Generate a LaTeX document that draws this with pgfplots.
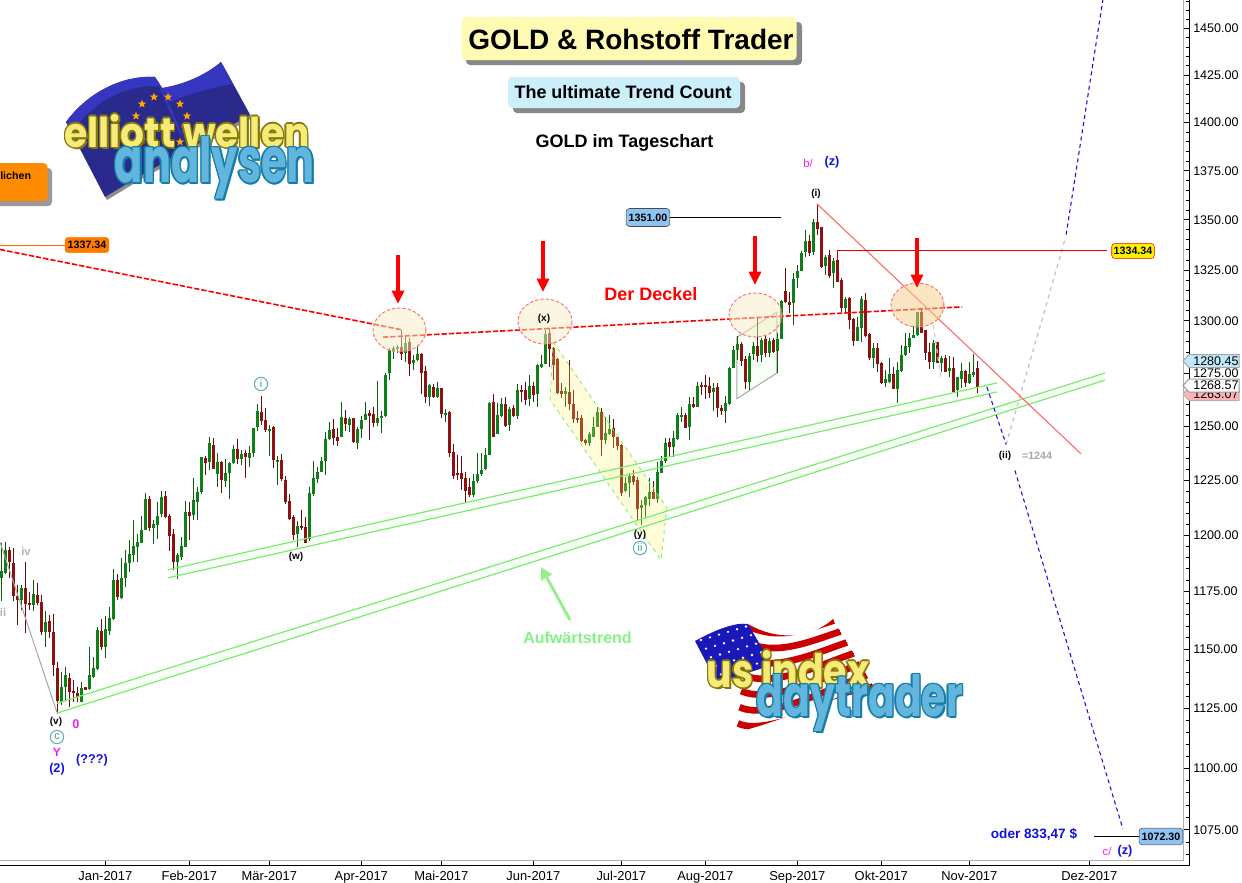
\documentclass[border=0pt]{standalone}
\usepackage{fontspec}
\setmainfont{Liberation Sans}
\newfontfamily\logofont{Poppins}
\usepackage{pgfplots}
\usepackage{pgfplotstable}
\pgfplotsset{compat=1.18}
\usetikzlibrary{shapes.geometric,calc,arrows.meta}
% i = trading-day index, t/b = body top/bottom, h/l = high/low
\pgfplotstableread{
i t b h l
0 1183.9 1181 1196.4 1170.8
1 1193.4 1183.2 1197.1 1182.9
5 1176.6 1171.5 1178.1 1167.1
8 1174 1169.3 1180.3 1166.4
11 1161.9 1157.6 1166.4 1151
15 1133.8 1127.7 1140.4 1126.3
16 1139 1134 1142.5 1128.4
20 1133.3 1127.7 1136.2 1127.4
22 1139 1133 1151 1132.6
23 1142.2 1138.3 1146.8 1137.6
24 1158.3 1141.4 1159.8 1141.1
26 1158.6 1151 1164.5 1146.1
27 1163.6 1158 1168.1 1156.1
28 1180.3 1163 1184.9 1162.7
30 1181 1172.2 1189.8 1171.9
31 1187.6 1181 1193.4 1177.3
32 1191.5 1187.6 1197.8 1183.6
33 1195.3 1191 1206.8 1188
34 1196.8 1194.9 1200.8 1187.9
35 1202.6 1196.7 1208.6 1196.4
36 1216.2 1202.6 1219.3 1202.3
38 1205 1203.3 1206.8 1195.9
39 1208.9 1204.4 1215.2 1198.5
40 1217.3 1209.6 1219.8 1208.3
44 1191.2 1188.3 1192 1180.6
45 1195.2 1190.5 1199.3 1189
46 1210.3 1194.9 1215.6 1194.6
48 1215.9 1209.1 1225.8 1206.8
49 1219.6 1215.2 1221.7 1206.8
50 1235.5 1219.6 1235.5 1218.7
52 1242 1233.3 1245 1229.6
54 1233.5 1227.8 1237.3 1221.7
56 1228.1 1224.7 1234.6 1222
57 1232.7 1228.1 1233.5 1216.5
58 1239.2 1233 1241.2 1232.3
60 1237 1234.9 1238.9 1231.9
62 1237.3 1235.3 1240.7 1231.2
63 1248.9 1237.3 1248.9 1235.8
64 1256.9 1249.4 1260.4 1247.7
67 1248.5 1247.8 1250.5 1236
69 1234.3 1233.5 1236 1222.7
74 1204.1 1200.5 1206.5 1194.9
77 1219 1198.5 1222 1197.5
78 1225.8 1218.7 1233.6 1217.7
79 1228.7 1225.6 1231.2 1223.8
80 1233.6 1228.9 1235.5 1228.7
81 1243.8 1233.9 1247.3 1227.3
82 1248.1 1243.8 1252 1243.5
85 1254.1 1245 1261.2 1245
87 1253.3 1250.5 1254.4 1247.4
89 1248.5 1242 1249.7 1239.4
90 1252.8 1248.6 1254.7 1244.6
91 1255.5 1252.8 1261.2 1252.8
94 1253.6 1251.3 1271.4 1250
95 1254.7 1253.6 1257.2 1246.9
96 1274 1254.7 1274.8 1254.4
97 1286.1 1274.8 1286.9 1271.7
98 1286.9 1285.7 1288 1281.7
99 1287.5 1286.4 1288.5 1284.5
101 1289.3 1284.5 1292.5 1280.5
103 1281.3 1280 1283.7 1276.4
104 1284.1 1281.3 1288.5 1280.9
107 1269.4 1263.8 1269.8 1259.4
109 1268.1 1263.8 1270.9 1263
111 1256.1 1255.3 1257.9 1252
118 1224.5 1218.2 1227.8 1217.1
119 1227.8 1224.5 1237.3 1223.8
120 1229.6 1227.6 1237.3 1226.9
121 1236.6 1230.1 1239.7 1229.6
122 1261 1236.6 1261.3 1236.6
124 1255.2 1246.3 1261 1246.3
125 1260.4 1254.9 1263.1 1254.4
127 1258 1250.5 1259.1 1247.8
129 1267 1254.9 1269.8 1253.1
132 1268.8 1262.8 1274 1259.4
134 1278.8 1265.1 1279.3 1259.1
135 1279.2 1277.7 1283.7 1277.2
136 1293.6 1279.3 1295.7 1279.3
141 1266.5 1265.1 1268.6 1258.8
147 1246.3 1242 1247.4 1240.7
148 1249.7 1245.1 1254.4 1244.8
149 1256.6 1249.7 1258.8 1249.4
151 1246.6 1243.5 1254.4 1241.7
152 1248.4 1246.3 1255.2 1245.8
156 1223.5 1220.2 1226.5 1219.7
157 1226.9 1223.5 1228.4 1217.4
160 1213.6 1212.1 1215.9 1204.5
161 1217.4 1213.6 1217.7 1207.6
162 1219.6 1216.5 1225.9 1213.2
164 1228.7 1216.4 1233.5 1214.7
165 1233.8 1228.4 1236.1 1228.1
166 1242 1233.9 1244.3 1233
168 1244.4 1240.4 1247.7 1235.5
169 1255.2 1243.8 1256.3 1243.5
170 1255 1254.4 1258.8 1252
172 1260.4 1249.7 1263.8 1243.5
174 1268.9 1259.1 1270.9 1258.8
178 1267.9 1266 1270.4 1256.8
181 1260.7 1256.8 1264.2 1251.6
182 1277.4 1260.4 1277.7 1259.9
183 1286.1 1277.2 1287.7 1277.2
184 1288.9 1286.1 1292.5 1281.3
187 1283.2 1270.8 1284.5 1266.7
188 1288 1284 1290.1 1281.3
190 1290.9 1283.7 1291.7 1280.5
192 1290.2 1284.8 1291.7 1282.5
194 1291.2 1285.7 1294.4 1274.8
195 1309.8 1291.2 1310.3 1291.2
198 1320.6 1308.7 1323.4 1298.1
199 1324.5 1321.2 1327.5 1316.3
200 1333.3 1324.7 1334.5 1324.5
201 1339.5 1334 1345 1331.7
203 1349.2 1334 1350.3 1332.5
206 1331.3 1327.2 1332.5 1322.5
208 1329.5 1323.4 1330.8 1316
211 1310.6 1306.2 1311.9 1304.6
214 1297 1290.5 1302.1 1290.2
215 1310.8 1296.8 1312.2 1289.6
218 1286.9 1282.1 1289.3 1277.2
221 1272 1270.1 1276.4 1268.2
222 1274.4 1270.9 1282.1 1270.4
224 1276.3 1267.5 1280.5 1260.7
225 1283.7 1276.1 1288.5 1275.6
226 1287.7 1283.7 1294.1 1283.2
227 1291.8 1287.5 1294.1 1284.8
228 1293.3 1292 1297.6 1291.7
229 1304.2 1293 1304.6 1292.5
233 1289.3 1280.5 1290.9 1276.8
235 1282.4 1280 1282.9 1275.6
237 1277.4 1276.1 1282.9 1273
239 1273 1266.7 1273.3 1263.5
240 1276 1272.2 1279.6 1267.8
242 1274.5 1270.4 1280.5 1269.8
243 1275.6 1274 1284.1 1273.2
}\tabUp
\pgfplotstableread{
i t b h l
2 1193.4 1188.3 1194.9 1181
3 1187.6 1173 1194.2 1170.8
4 1173 1171.2 1178.1 1160.5
6 1176.6 1169.8 1188.3 1157.2
7 1170 1169.3 1175.1 1166.8
9 1173.6 1170 1178.8 1169.3
10 1170.6 1157.6 1173.7 1156.1
12 1162.3 1157.6 1164.9 1154.7
13 1157.5 1143.2 1165.4 1138.7
14 1142.2 1128 1144.4 1122.7
17 1137.7 1131.9 1139.7 1125.6
18 1132.3 1131.5 1136.9 1127.7
19 1131.2 1129.5 1133.8 1127.7
21 1133.9 1132.6 1133.9 1132.6
25 1157.9 1151 1163 1149.6
29 1180.3 1172.5 1182.9 1171.2
37 1216.2 1203.3 1217.7 1202
41 1217.6 1208.3 1219.8 1207.6
42 1208.6 1199.7 1209.6 1193.1
43 1200.5 1188.3 1203 1184.7
47 1210.3 1208.8 1215.2 1197.8
51 1235.2 1233 1236.1 1227.3
53 1241 1230.2 1244.6 1230.2
55 1233.3 1225 1233.9 1219.2
59 1239.4 1234.9 1243.8 1232.4
61 1237.3 1235.8 1238.9 1226.1
65 1256.4 1252.5 1264.2 1250.5
66 1252.7 1248.1 1258.3 1247
68 1249.5 1234.3 1250 1230.7
70 1234.3 1225.5 1237 1224.7
71 1225.3 1215 1226.9 1214.1
72 1215.5 1207.3 1218.7 1206.8
73 1208.2 1200 1209.1 1198.1
75 1204.1 1203.2 1211.4 1202.3
76 1203.6 1196.7 1208.3 1196.4
83 1248.5 1244.6 1253.1 1241.2
84 1244.9 1242.8 1248.9 1240.7
86 1253.6 1250.9 1257.6 1247.7
88 1253.6 1242.6 1253.8 1242
92 1256.1 1254.9 1257.6 1243.5
93 1255.5 1251.6 1259.1 1249.4
100 1287.5 1284.1 1295.7 1281.3
102 1290.1 1279.3 1291.7 1273.6
105 1284.1 1275.2 1284.5 1265.1
106 1276 1263.4 1278.4 1261
108 1268.2 1263.5 1269.8 1263
110 1267.9 1255.7 1268.1 1253.6
112 1256.6 1237.7 1256.8 1235.8
113 1237.8 1227 1241.5 1225.5
114 1228.2 1227.3 1236.6 1225
115 1228.4 1225.5 1236.3 1220.5
116 1225.9 1220.2 1228.9 1214.4
117 1222 1218.2 1225.8 1217.4
123 1261.2 1245 1265.1 1245
126 1260.4 1250.2 1263.5 1249.7
128 1258.5 1254.7 1259.9 1254.4
130 1267 1266.2 1269.4 1261.5
131 1266.8 1262.3 1270.9 1259.9
133 1268.7 1264.6 1270.9 1261.5
137 1294.1 1286.4 1296.5 1278
138 1286.9 1278.8 1287.3 1271.7
139 1281.6 1265.6 1282 1265
140 1266.5 1265.1 1270.1 1263.1
142 1266.2 1260.4 1281.3 1257.6
143 1260.4 1253.1 1267 1251.3
144 1253.8 1253 1256.8 1251.3
145 1253.8 1243.2 1255.2 1242.7
146 1243.5 1242.3 1243.8 1241.2
150 1256.4 1243.5 1258.3 1236.1
153 1249.1 1245.1 1253.1 1239.7
154 1244.9 1240.7 1245.1 1238.9
155 1241.2 1219 1241.7 1217.7
158 1226.9 1224.3 1229.6 1222.7
159 1225 1211.7 1226.5 1206.8
163 1219.6 1216.4 1224.4 1216.2
167 1242.4 1240.4 1244.3 1235.5
171 1255 1249.2 1256 1248.9
173 1260.4 1258.7 1263.8 1258.3
175 1269.2 1268.6 1270.9 1264.6
176 1269.2 1268.6 1274 1262.6
177 1268.9 1265.7 1273.3 1263.1
179 1268.2 1258.3 1270.4 1254.1
180 1258.5 1257.2 1259.9 1255.2
185 1288.9 1280.9 1289.6 1278.4
186 1281.6 1270.9 1282.9 1267.3
189 1288 1283.2 1302 1280.5
191 1291.4 1284.8 1292.5 1282.5
193 1290.9 1285.3 1291.7 1284.5
196 1314.7 1309.1 1325.8 1309
197 1309.3 1307.8 1314.4 1304.1
202 1339.5 1333.7 1342.5 1332
204 1349 1345.5 1358.2 1342.5
205 1346.3 1326.7 1346.7 1325.8
207 1332.3 1322.2 1335 1320.9
209 1329.7 1319.3 1334.2 1319.1
210 1320.1 1306.2 1320.9 1304.6
212 1311.1 1300.5 1311.6 1296
213 1301 1290.5 1301.3 1288.1
216 1310.3 1292.8 1313.6 1292.2
217 1293.7 1282.4 1294.1 1281.3
219 1286.9 1279.3 1289.3 1275.6
220 1280 1270.1 1280.5 1269.8
223 1274.4 1267.5 1278 1267.3
230 1304.2 1294.4 1306.2 1294.1
231 1295.5 1284.8 1295.7 1281.3
232 1285 1280.5 1289.3 1276.8
234 1289.9 1280 1290.1 1279.6
236 1282.1 1275.6 1283.7 1275.3
238 1277.6 1265.9 1282.6 1265.7
241 1276 1270.4 1276.4 1268.2
244 1277.2 1268.6 1280.9 1265.4
}\tabDown
\definecolor{cgreen}{HTML}{0E8018}\definecolor{wgreen}{HTML}{0A5A0A}
\definecolor{cred}{HTML}{8E1010}\definecolor{wred}{HTML}{6A0A0A}
\definecolor{trend}{HTML}{7CEB6E}\definecolor{ablue}{HTML}{1010E0}
\definecolor{tagblue}{HTML}{8FC3F2}\definecolor{mag}{HTML}{F020F0}
\definecolor{pale}{HTML}{F6EEC4}\definecolor{palor}{HTML}{F8CE8A}
\definecolor{goldy}{HTML}{F6EA78}\definecolor{goldedge}{HTML}{85780A}
\definecolor{skyb}{HTML}{62B6DE}\definecolor{skyedge}{HTML}{147CA6}
\definecolor{eudark}{HTML}{2A2A8C}\definecolor{eulight}{HTML}{3636C0}
\definecolor{boxshadow}{HTML}{888888}
\newcommand\candles[3]{%
 \addplot[draw=none,no markers,forget plot,error bars/.cd,y dir=minus,y explicit,error mark=none,error bar style={line width=.75pt,color=#2,solid}] table[x=i,y=h,y error expr=\thisrow{h}-\thisrow{l}] {#1};
 \addplot[draw=none,no markers,forget plot,error bars/.cd,y dir=minus,y explicit,error mark=none,error bar style={line width=2.5pt,color=#3,solid}] table[x=i,y=t,y error expr=\thisrow{t}-\thisrow{b}] {#1};
}
\newcommand\fsz[1]{\fontsize{#1}{#1}\selectfont}
\newcommand\logotext[7]{% x,y,w,h,text,fill,edge
 \foreach \dx/\dy in {-1.4/0,1.4/0,0/-1.4,0/1.4,-1/-1,1/-1,-1/1,1/1,1.6/2.2}{
  \node[inner sep=0pt,text=#7] at (#1+\dx,#2+\dy) {\resizebox{\dimexpr #3pt*3/4\relax}{\dimexpr #4pt*3/4\relax}{\logofont\bfseries #5}};}
 \node[inner sep=0pt,text=#6] at (#1,#2) {\resizebox{\dimexpr #3pt*3/4\relax}{\dimexpr #4pt*3/4\relax}{\logofont\bfseries #5}};
}
\newcommand\pricetag[4]{% y text fill edge
 \filldraw[fill=#3,draw=#4,line width=.75pt] (1183,#1) -- (1189,#1-6.5) -- (1239,#1-6.5) -- (1239,#1+6.5) -- (1189,#1+6.5) -- cycle;
 \node[anchor=west,inner sep=0pt,font=\fsz{9.4}] at (1193,#1) {#2};
}
\begin{document}
\begin{tikzpicture}
\path[use as bounding box] (0,0) rectangle (931.5pt,-661.5pt);
\clip (0,0) rectangle (931.5pt,-661.5pt);
\begin{axis}[
 at={(0pt,-649.5pt)},anchor=south west,scale only axis,
 width=891.75pt,height=649.5pt,
 ymode=log,
 xmin=-0.3325,xmax=296.92,ymin=1060.68,ymax=1465.79,
 axis x line=bottom,axis y line=right,
 axis line style={-,black,line width=.75pt},
 tick align=inside,
 tick style={black,line width=.75pt},
 major tick length=4.5pt,minor tick length=2.4pt,
 xtick={26,47,67,90,110,133,155,176,199,220,242,272},
 xticklabels={Jan-2017,Feb-2017,Mär-2017,Apr-2017,Mai-2017,Jun-2017,Jul-2017,Aug-2017,Sep-2017,Okt-2017,Nov-2017,Dez-2017},
 xticklabel style={font=\fsz{9.7},inner ysep=0pt,text height=7.5pt,text depth=0pt,yshift=-3.5pt},
 ytick={1075,1100,1125,1150,1175,1200,1225,1250,1275,1300,1325,1350,1375,1400,1425,1450},
 yticklabels={1075.00,1100.00,1125.00,1150.00,1175.00,1200.00,1225.00,1250.00,1275.00,1300.00,1325.00,1350.00,1375.00,1400.00,1425.00,1450.00},
 yticklabel style={font=\fsz{9.4},anchor=west,inner xsep=0pt,xshift=3pt},
 minor ytick={1065,1070,1080,1085,1090,1095,1105,1110,1115,1120,1130,1135,1140,1145,1155,1160,1165,1170,1180,1185,1190,1195,1205,1210,1215,1220,1230,1235,1240,1245,1255,1260,1265,1270,1280,1285,1290,1295,1305,1310,1315,1320,1330,1335,1340,1345,1355,1360,1365,1370,1380,1385,1390,1395,1405,1410,1415,1420,1430,1435,1440,1445,1455,1460,1465},
 clip=true,
]
% pale channel fills
\addplot[fill=green!3,draw=none,forget plot] coordinates {(41.7,1184.7) (248.9,1270.3) (248.9,1266) (41.7,1181.1)} -- cycle;
\addplot[fill=green!3,draw=none,forget plot] coordinates {(13.9,1127) (275.9,1275) (275.9,1271.6) (13.9,1122.9)} -- cycle;
\addplot[fill=green!3,draw=gray!70,line width=.75pt,forget plot] coordinates {(183.9,1292.2) (193.9,1304.4) (193.9,1275) (183.9,1262.9)} -- cycle;
% candles
\candles{\tabUp}{wgreen}{cgreen}
\candles{\tabDown}{wred}{cred}
% falling channel
\addplot[fill=yellow!60!white,fill opacity=.25,draw=trend,line width=.6pt,dashed,forget plot] coordinates {(137.9,1290) (166.4,1212.5) (164.9,1189) (137.2,1262.3)} -- cycle;
% green trend lines
\addplot[trend,line width=.9pt,forget plot] coordinates {(41.7,1184.7) (248.9,1270.3)};
\addplot[trend,line width=.9pt,forget plot] coordinates {(41.7,1181.1) (248.9,1266)};
\addplot[trend,line width=.9pt,forget plot] coordinates {(13.9,1127) (275.9,1275)};
\addplot[trend,line width=.9pt,forget plot] coordinates {(13.9,1122.9) (275.9,1271.6)};
% gray wave lines
\addplot[gray!70,line width=.75pt,forget plot] coordinates {(-0.33,1197) (13.9,1123.3)};
\addplot[gray!50,dashed,line width=.9pt,forget plot] coordinates {(251.2,1241.4) (265.9,1340.1)};
\addplot[gray!40,dashed,line width=.9pt,forget plot] coordinates {(233,1298) (235,1271.5)};
% red lines
\addplot[red,dashed,line width=1.2pt,dash pattern=on 4pt off 1.5pt,forget plot] coordinates {(-0.33,1335.2) (100.2,1295.7)};
\addplot[red,dashed,line width=1.2pt,dash pattern=on 4pt off 1.5pt,forget plot] coordinates {(95.4,1292.2) (240.2,1306.9)};
\addplot[red!60!white,line width=.8pt,forget plot] coordinates {(203.9,1358.2) (269.9,1237.1)};
% blue projection
\addplot[ablue,line width=.8pt,dash pattern=on 3pt off 2.5pt,forget plot] coordinates {(246.4,1268.3) (251.2,1241.4)};
\addplot[ablue,line width=.8pt,dash pattern=on 3pt off 2.5pt,forget plot] coordinates {(253.4,1229.4) (280.4,1075.3)};
\addplot[ablue,line width=.8pt,dash pattern=on 3pt off 2.5pt,forget plot] coordinates {(266.2,1342.6) (275.4,1465.8)};
% level lines
\addplot[black,line width=.75pt,forget plot] coordinates {(164.7,1351.4) (194.9,1351.4)};
\addplot[red!90!black,line width=.75pt,forget plot] coordinates {(209,1330) (209,1334.6) (276.5,1334.6)};
\addplot[orange!80!red,line width=.75pt,forget plot] coordinates {(-0.33,1337.3) (16,1337.3)};
\addplot[black,line width=.75pt,forget plot] coordinates {(273.2,1072.3) (285,1072.3)};
\end{axis}
\begin{scope}[x=.75pt,y=-.75pt]
\draw[color=black!30,line width=.75pt] (1183.3,0) -- (1183.3,860.7) -- (0,860.7);
% ellipses
\foreach \cx/\cy/\rx/\ry/\col in {399.5/330/26.5/22/pale,545/321.5/27/22.5/pale,755.5/315/26.5/22/pale,917.5/305/26.5/22/palor}{
 \fill[\col,opacity=.5] (\cx,\cy) ellipse [x radius=\rx,y radius=\ry];
 \draw[red!55,line width=.75pt,dash pattern=on 2.5pt off 1.5pt] (\cx,\cy) ellipse [x radius=\rx,y radius=\ry];
}
% red arrows
\foreach \ax/\ay/\by in {398/255/304,543/241/292,755/236/285,917/238/288}{
 \draw[red,line width=2.3pt,-{Triangle[length=10pt,width=9pt]}] (\ax,\ay) -- (\ax,\by);
}
\draw[trend!80!white,line width=2.2pt,-{Triangle[length=9pt,width=9pt]}] (570,620) -- (541,567);
% titles
\fill[boxshadow,rounded corners=3pt] (466,22) rectangle (802,65);
\fill[yellow!30!white,rounded corners=3pt] (461.7,17) rectangle (796.7,60);
\node[font=\fsz{21}\bfseries] at (631,39) {GOLD \& Rohstoff Trader};
\fill[boxshadow,rounded corners=3pt] (513,82) rectangle (745,113);
\fill[cyan!20!white,rounded corners=3pt] (508,77) rectangle (740,108);
\node[font=\fsz{13.5}\bfseries] at (623,92.5) {The ultimate Trend Count};
\node[font=\fsz{13.5}\bfseries] at (624.5,143) {GOLD im Tageschart};
\node[font=\fsz{13.5}\bfseries,text=red] at (651,294) {Der Deckel};
\node[font=\fsz{12}\bfseries,text=green!45!white!95!black] at (577.5,638) {Aufwärtstrend};
\node[font=\fsz{10.2}\bfseries,text=ablue] at (1034,834) {oder 833,47 \$};
% wave labels
\foreach \lx/\ly/\lt in {816/194/(i),544/319/(x),296/557/(w),640/535/(y),56/722/(v),1005/456/(ii)}{
 \node[font=\fsz{7.5}\bfseries] at (\lx,\ly) {\lt};}
\foreach \lx/\ly/\lt in {261/384/i,640/548/ii,57/737/c}{
 \node[circle,draw=teal!60,line width=.8pt,inner sep=0pt,minimum size=10pt,font=\fsz{8},text=teal!80] at (\lx,\ly) {\lt};}
\node[font=\fsz{9}\bfseries,text=mag] at (57,752) {Y};
\node[font=\fsz{9.5}\bfseries,text=mag] at (76,724) {0};
\node[font=\fsz{9.5}\bfseries,text=ablue] at (57,769) {(2)};
\node[font=\fsz{9.5}\bfseries,text=ablue] at (92,760) {(???)};
\node[font=\fsz{8.5}\bfseries,text=gray!60] at (26,551) {iv};
\node[font=\fsz{8.5}\bfseries,text=gray!60] at (3,612) {ii};
\node[font=\fsz{8.5},text=mag] at (808,163) {b/};
\node[font=\fsz{9.5}\bfseries,text=ablue] at (832,162) {(z)};
\node[font=\fsz{8.5},text=mag] at (1107,851) {c/};
\node[font=\fsz{9.5}\bfseries,text=ablue] at (1125,851) {(z)};
\node[font=\fsz{8}\bfseries,text=gray!70] at (1037,456) {=1244};
% level tags
\node[draw=black!70,fill=tagblue,rounded corners=2.5pt,inner xsep=2pt,minimum height=13.5pt,inner ysep=0pt,font=\fsz{8}\bfseries] at (648,217.5) {1351.00};
\node[draw=red,fill=yellow,rounded corners=2.5pt,inner xsep=1.5pt,minimum height=11.5pt,inner ysep=0pt,font=\fsz{8}\bfseries] at (1133,251) {1334.34};
\node[draw=orange,fill=orange!95!red,rounded corners=2.5pt,inner xsep=2pt,minimum height=11.5pt,inner ysep=0pt,font=\fsz{8}\bfseries] at (87,245) {1337.34};
\node[draw=black!70,fill=tagblue,rounded corners=2.5pt,inner xsep=2pt,minimum height=12.5pt,inner ysep=0pt,font=\fsz{8}\bfseries] at (1161,836.5) {1072.30};
% right price tags
\pricetag{394}{1263.07}{red!30}{gray!60}
\pricetag{361}{1280.45}{cyan!25}{gray!70}
\pricetag{385.5}{1268.57}{white}{gray!80}
% orange box
\fill[gray!80,rounded corners=3pt] (-10,168) rectangle (52,206);
\fill[orange!90!yellow,rounded corners=3pt] (-10,163) rectangle (47.5,201);
\node[anchor=west,inner sep=0pt,font=\fsz{8}\bfseries] at (0,176) {lichen};
% EU logo
\fill[black!45] (68,125) .. controls (90,95) and (125,78) .. (157,80) -- (164,91) .. controls (185,88) and (208,78) .. (223,65) -- (252,118) -- (140,180) -- (107,200) -- cycle;
\fill[eudark] (66,122) .. controls (88,92) and (123,75) .. (155,77) -- (162,88) .. controls (183,85) and (206,75) .. (221,62) -- (250,115) -- (138,177) -- (105,197) -- cycle;
\fill[eulight] (155,77) -- (162,88) -- (185,140) -- (178,130) -- cycle;
\fill[eulight] (162,88) .. controls (183,85) and (206,75) .. (221,62) -- (232,84) .. controls (210,88) and (185,95) .. (170,102) -- cycle;
\fill[eulight] (66,122) .. controls (88,92) and (123,75) .. (155,77) -- (160,86) .. controls (125,85) and (95,100) .. (72,132) -- cycle;
\foreach \sx/\sy in {142/104,154/97,168/97,180/104,187/116,185/128,180/142,136/116,142/140}{
 \node[star,star points=5,star point ratio=2.3,fill=orange!70!yellow,inner sep=0pt,minimum size=6.5pt] at (\sx,\sy) {};}
\logotext{187}{131}{245}{33}{elliott wellen}{goldy}{goldedge}
\logotext{215}{168}{200}{46}{analysen}{skyb}{skyedge}
% US logo
\begin{scope}
\clip (695,641) .. controls (715,630) and (735,622) .. (748,624) .. controls (775,640) and (810,640) .. (833,619) -- (877,692) .. controls (840,690) and (790,720) .. (737,732) -- (717,683) -- cycle;
\fill[white] (680,610) rectangle (890,740);
\foreach \tt in {0.02,0.17,0.32,0.47,0.62,0.77,0.92}{
 \draw[red!80!black,line width=5pt] ($(748,624)!\tt!(737,732)$) .. controls +(30,14) and +(-30,10) .. ($(833,619)!\tt!(877,692)$);
}
\fill[blue!70!black!90] (695,641) .. controls (715,630) and (735,622) .. (748,624) -- (772,665) -- (717,683) -- cycle;
\foreach \dx in {0,...,5}{\foreach \dy in {0,...,4}{
 \fill[white] (701+\dx*9+\dy*5,640-\dx*2.7+\dy*8.6) circle (1.3);}}
\end{scope}
\logotext{788}{669}{163}{37}{us index}{goldy}{goldedge}
\logotext{860}{703}{206}{42}{daytrader}{skyb}{skyedge}
\end{scope}
\end{tikzpicture}
\end{document}
